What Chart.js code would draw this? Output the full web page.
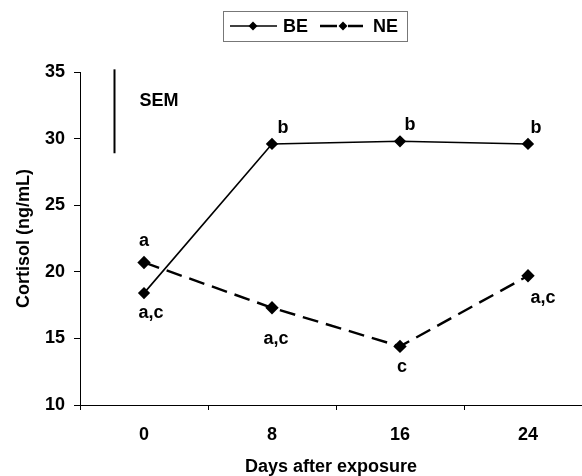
<!DOCTYPE html>
<html>
<head>
<meta charset="utf-8">
<script src="https://cdn.jsdelivr.net/npm/chart.js@4/dist/chart.umd.min.js"></script>
<style>
  html, body { margin: 0; padding: 0; background: #fff; overflow: hidden; }
  #wrap { width: 582px; height: 476px; }
</style>
</head>
<body>
<div id="wrap"><canvas id="myChart"></canvas></div>
<script>
var days = [0, 8, 16, 24];
var beValues = [18.4, 29.6, 29.8, 29.6];
var neValues = [20.7, 17.3, 14.4, 19.7];
var beLetters = ["a,c", "b", "b", "b"];
var neLetters = ["a", "a,c", "c", "a,c"];
var yTicks = [10, 15, 20, 25, 30, 35];
var xTickMarks = [-4, 4, 12, 20];
var semRange = [35.2, 28.9];

var fam = "'Liberation Sans', Arial, sans-serif";
var boldFont = "bold 18px " + fam;

// offsets of the significance letters (px) per point
var beOffsets = [[7, 20], [11, -16], [10, -16], [8, -16]];
var neOffsets = [[0, -21], [4, 31], [2, 21], [15, 22]];

var extras = {
  id: "extras",
  afterDraw: function (chart) {
    var ctx = chart.ctx;
    var xs = chart.scales.x, ys = chart.scales.y;
    ctx.save();
    ctx.fillStyle = "#000";
    ctx.strokeStyle = "#000";
    ctx.font = boldFont;
    ctx.textAlign = "center";
    ctx.textBaseline = "middle";

    days.forEach(function (d, i) {
      var px = xs.getPixelForValue(d);
      ctx.fillText(beLetters[i], px + beOffsets[i][0], ys.getPixelForValue(beValues[i]) + beOffsets[i][1]);
      ctx.fillText(neLetters[i], px + neOffsets[i][0], ys.getPixelForValue(neValues[i]) + neOffsets[i][1]);
    });

    // SEM bar
    var sx = Math.round(xs.getPixelForValue(-1.9)) + 0.5;
    ctx.lineWidth = 2;
    ctx.beginPath();
    ctx.moveTo(sx, ys.getPixelForValue(semRange[0]));
    ctx.lineTo(sx, ys.getPixelForValue(semRange[1]));
    ctx.stroke();
    ctx.textAlign = "left";
    ctx.fillText("SEM", sx + 25, 101);

    // legend
    ctx.lineWidth = 1;
    ctx.strokeStyle = "#777";
    ctx.strokeRect(223.5, 11.5, 184, 30);
    ctx.strokeStyle = "#000";
    var ly = 26;
    function diamond(x, y) {
      ctx.beginPath();
      ctx.moveTo(x, y - 4.5); ctx.lineTo(x + 4.5, y); ctx.lineTo(x, y + 4.5); ctx.lineTo(x - 4.5, y);
      ctx.closePath();
      ctx.fill();
    }
    ctx.lineWidth = 1.6;
    ctx.beginPath(); ctx.moveTo(230, ly); ctx.lineTo(277, ly); ctx.stroke();
    diamond(253, ly);
    ctx.fillText("BE", 283, ly + 1);
    ctx.lineWidth = 2.5;
    ctx.beginPath(); ctx.moveTo(320, ly); ctx.lineTo(337, ly); ctx.moveTo(348, ly); ctx.lineTo(363, ly); ctx.stroke();
    diamond(343, ly);
    ctx.fillText("NE", 373, ly + 1);
    ctx.restore();
  }
};

var ctx = document.getElementById("myChart").getContext("2d");
var config = {
  type: "line",
  data: {
    datasets: [{
      label: "BE",
      data: days.map(function (d, i) { return { x: d, y: beValues[i] }; }),
      borderColor: "#000",
      backgroundColor: "#000",
      borderWidth: 1.6,
      pointStyle: "rectRot",
      pointRadius: 5,
      tension: 0
    }, {
      label: "NE",
      data: days.map(function (d, i) { return { x: d, y: neValues[i] }; }),
      borderColor: "#000",
      backgroundColor: "#000",
      borderWidth: 2.4,
      borderDash: [16, 8],
      pointStyle: "rectRot",
      pointRadius: 5,
      tension: 0
    }]
  },
  options: {
    responsive: true,
    maintainAspectRatio: false,
    animation: false,
    layout: { autoPadding: false, padding: { top: 72, right: 0, left: 0, bottom: 0 } },
    plugins: { legend: { display: false }, tooltip: { enabled: false } },
    scales: {
      x: {
        type: "linear",
        min: -4,
        max: 27.375,
        afterBuildTicks: function (scale) {
          scale.ticks = [-4, 0, 4, 8, 12, 16, 20, 24].map(function (v) { return { value: v }; });
        },
        afterFit: function (scale) {
          scale.height = 71;
          scale.paddingLeft = 0;
          scale.paddingRight = 0;
        },
        grid: {
          drawOnChartArea: false,
          tickLength: 5,
          tickColor: function (c) {
            return c.tick && xTickMarks.indexOf(c.tick.value) >= 0 ? "#000" : "rgba(0,0,0,0)";
          }
        },
        border: { color: "#000", width: 1 },
        ticks: {
          color: "#000",
          font: { family: fam, size: 18, weight: "bold" },
          padding: 14,
          maxRotation: 0,
          callback: function (v) { return days.indexOf(v) >= 0 ? String(v) : ""; }
        },
        title: {
          display: true,
          text: "Days after exposure",
          color: "#000",
          font: { family: fam, size: 18, weight: "bold", lineHeight: 1 },
          padding: { top: 0, bottom: 0 }
        }
      },
      y: {
        min: 10,
        max: 35,
        afterBuildTicks: function (scale) {
          scale.ticks = yTicks.map(function (v) { return { value: v }; });
        },
        afterFit: function (scale) { scale.width = 80; },
        grid: { drawOnChartArea: false, tickLength: 6, tickColor: "#000" },
        border: { color: "#000", width: 1 },
        ticks: {
          color: "#000",
          font: { family: fam, size: 18, weight: "bold" },
          padding: 9
        },
        title: {
          display: true,
          text: "Cortisol (ng/mL)",
          color: "#000",
          font: { family: fam, size: 18, weight: "bold", lineHeight: 1 },
          padding: { top: 15, bottom: 0 }
        }
      }
    }
  },
  plugins: [extras]
};

var myChart = new Chart(ctx, config);
</script>
</body>
</html>
